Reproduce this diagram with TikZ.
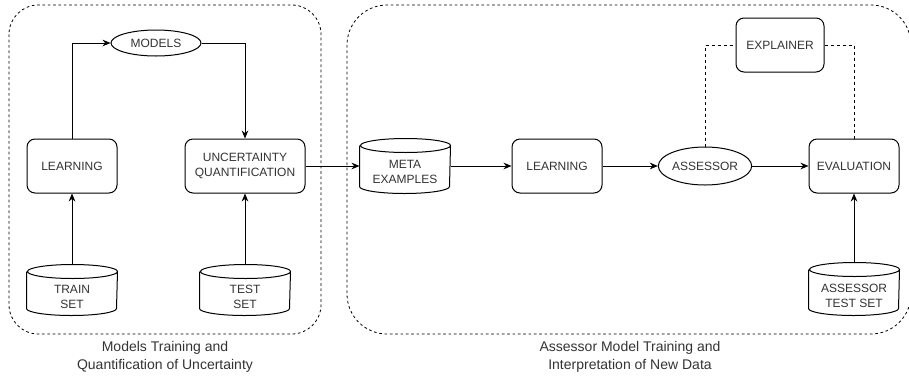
\documentclass[tikz,border=0pt]{standalone}
\usepackage{fontspec}
\setmainfont{Liberation Sans}
\usetikzlibrary{arrows.meta,calc,shapes.geometric}
\definecolor{txt}{HTML}{333333}
\begin{document}
\begin{tikzpicture}[x=0.75pt,y=-0.75pt,
  line width=0.75pt,
  every node/.style={text=txt, font=\fontsize{9pt}{11.25pt}\selectfont, align=center, inner sep=0pt},
  box/.style={draw, rounded corners=6pt, minimum width=67.5pt, minimum height=40.5pt, fill=white},
  oval/.style={draw, ellipse, minimum width=67.5pt, fill=white},
  dbnode/.style={minimum width=67.5pt, minimum height=37.5pt},
  group/.style={draw, dash pattern=on 2pt off 2pt, line width=0.6pt, rounded corners=#1},
  caption/.style={font=\fontsize{10.5pt}{13pt}\selectfont},
  arr/.style={-{Stealth[length=6pt,width=5pt]}},
  dashlink/.style={dash pattern=on 2.25pt off 2.25pt, line width=0.6pt}
]
\useasboundingbox (0,0) rectangle (909,379);
\clip (0,0) rectangle (909,379);

\newcommand\drawdb[2]{% name, dy
  \draw[fill=white] ($(#1.north west)+(0,#2)$) -- ($(#1.south west)+(0,-#2)$)
    arc[start angle=180,end angle=360,x radius=33.75pt,y radius=#2*0.75pt]
    -- ($(#1.north east)+(0,#2)$)
    arc[start angle=0,end angle=180,x radius=33.75pt,y radius=#2*0.75pt]
    arc[start angle=180,end angle=360,x radius=33.75pt,y radius=#2*0.75pt];
}

% groups
\draw[group=22pt] (9,5) rectangle (321,334);
\draw[group=30pt] (347,5) rectangle (911,334);
\node[caption] (cap1) at (165,357) {Models Training and\\Quantification of Uncertainty};
\node[caption] (cap2) at (630,357) {Assessor Model Training and\\Interpretation of New Data};

% left group
\node[oval, minimum height=19.5pt] (models) at (156,43) {MODELS};
\node[box] (learn1) at (72,166) {LEARNING};
\node[box, minimum width=90pt] (uq) at (245,166) {UNCERTAINTY\\QUANTIFICATION};
\node[dbnode] (train) at (72,290) {};
\drawdb{train}{7}
\node (traintxt) at (72,297) {TRAIN\\SET};
\node[dbnode] (test) at (245,290) {};
\drawdb{test}{7}
\node (testtxt) at (245,297) {TEST\\SET};

% right group
\node[dbnode, minimum height=40.5pt] (meta) at (405,166) {};
\drawdb{meta}{7}
\node (metatxt) at (405,172) {META\\EXAMPLES};
\node[box] (learn2) at (557,166) {LEARNING};
\node[oval, minimum height=28.5pt] (assessor) at (705,166) {ASSESSOR};
\node[box] (eval) at (854,166) {EVALUATION};
\node[box, minimum width=66pt] (expl) at (780,45) {EXPLAINER};
\node[dbnode, minimum height=39pt] (ats) at (854,289) {};
\drawdb{ats}{7}
\node (atstxt) at (854,296) {ASSESSOR\\TEST SET};

% connectors
\draw[arr] (learn1.north) |- (models.west);
\draw[arr] (models.east) -| (uq.north);
\draw[arr] (train.north) -- (learn1.south);
\draw[arr] (test.north) -- (uq.south);
\draw[arr] (uq.east) -- (meta.west);
\draw[arr] (meta.east) -- (learn2.west);
\draw[arr] (learn2.east) -- (assessor.west);
\draw[arr] (assessor.east) -- (eval.west);
\draw[arr] (ats.north) -- (eval.south);
\draw[dashlink] (assessor.north) |- (expl.west);
\draw[dashlink] (expl.east) -| (eval.north);
\end{tikzpicture}
\end{document}
